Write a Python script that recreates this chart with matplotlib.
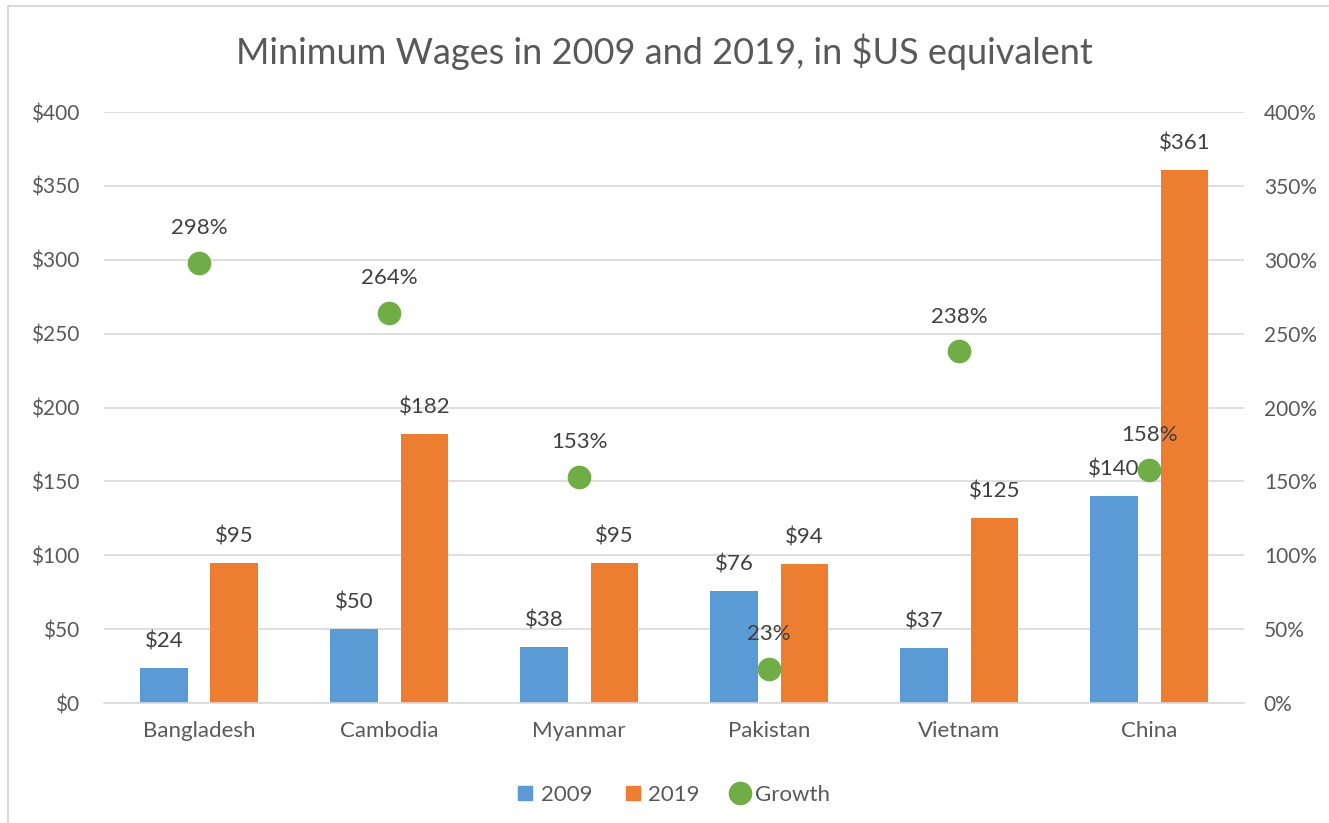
import numpy as np
import matplotlib.pyplot as plt
from matplotlib.patches import Rectangle
from matplotlib.lines import Line2D
from matplotlib.ticker import FuncFormatter

countries = ["Bangladesh", "Cambodia", "Myanmar", "Pakistan", "Vietnam", "China"]
wage_2009 = [24, 50, 38, 76, 37, 140]
wage_2019 = [95, 182, 95, 94, 125, 361]
growth = [298, 264, 153, 23, 238, 158]  # percent

blue = "#5B9BD5"
orange = "#ED7D31"
green = "#70AD47"
grey_txt = "#595959"
grid_c = "#D9D9D9"

plt.rcParams["font.family"] = ["Lato", "DejaVu Sans"]

fig = plt.figure(figsize=(13.29, 8.23), dpi=100)
ax = fig.add_axes([0.0783, 0.1458, 0.858, 0.718])
ax2 = ax.twinx()

# outer frame like the excel chart area
fig.patches.append(Rectangle((8 / 1329, -0.05), 1.2, 1 - 6 / 823 + 0.05,
                             transform=fig.transFigure, fill=False,
                             edgecolor="#D9D9D9", lw=1.5))

x = np.arange(len(countries))
w = 0.25
b1 = ax.bar(x - 0.185, wage_2009, w, color=blue, zorder=2)
b2 = ax.bar(x + 0.185, wage_2019, w, color=orange, zorder=2)

for bars, vals in [(b1, wage_2009), (b2, wage_2019)]:
    for r, v in zip(bars, vals):
        ax.annotate(f"${v}", (r.get_x() + r.get_width() / 2, v),
                    xytext=(0, 19), textcoords="offset points",
                    ha="center", va="center", fontsize=16, color="#404040")

g = np.array(growth) / 100
ax2.plot(x, g, "o", ms=16, color=green, zorder=3)
for xi, gi, v in zip(x, g, growth):
    ax2.annotate(f"{v}%", (xi, gi), xytext=(0, 25), textcoords="offset points",
                 ha="center", va="center", fontsize=16, color="#404040")

ax.set_xlim(-0.5, len(countries) - 0.5)
ax.set_ylim(0, 400)
ax2.set_ylim(0, 4)
ax.set_yticks(range(0, 401, 50))
ax2.set_yticks(np.arange(0, 4.01, 0.5))
ax.yaxis.set_major_formatter(FuncFormatter(lambda v, p: f"${v:.0f}"))
ax2.yaxis.set_major_formatter(FuncFormatter(lambda v, p: f"{v * 100:.0f}%"))
ax.set_xticks(x)
ax.set_xticklabels(countries)

ax.grid(axis="y", color=grid_c, lw=1.2, zorder=0)
ax.set_axisbelow(True)
for a in (ax, ax2):
    for s in a.spines.values():
        s.set_visible(False)
    a.tick_params(length=0, labelsize=15, labelcolor=grey_txt)
ax.tick_params(axis="x", labelsize=16)
ax.spines["bottom"].set_visible(True)
ax.spines["bottom"].set_color(grid_c)
ax.spines["bottom"].set_linewidth(1.2)
ax.tick_params(axis="y", pad=18)
ax.tick_params(axis="x", pad=13)
ax2.tick_params(axis="y", pad=14)

fig.text(0.5, 0.937, "Minimum Wages in 2009 and 2019, in $US equivalent",
         ha="center", va="center", fontsize=26, color=grey_txt)

handles = [
    Line2D([], [], marker="s", ls="", color=blue, ms=10),
    Line2D([], [], marker="s", ls="", color=orange, ms=10),
    Line2D([], [], marker="o", ls="", color=green, ms=16),
]
fig.legend(handles, ["2009", "2019", "Growth"], loc="center",
           bbox_to_anchor=(0.505, 0.034), ncol=3, frameon=False,
           fontsize=16, labelcolor=grey_txt, handletextpad=0.1,
           columnspacing=1.2, handlelength=1.2)

fig.savefig("out.png", dpi=100)
